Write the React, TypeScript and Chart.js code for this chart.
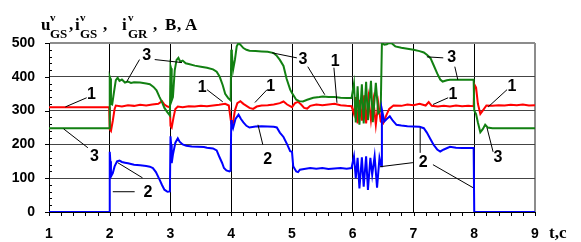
import React, { useEffect, useRef } from "react";
import { Chart, registerables } from "chart.js";
Chart.register(...registerables);

// ---- data (t in seconds, value) ----
const redSeries: [number, number][] = [
  [1.0, 310], [1.99, 310], [2.0, 245], [2.02, 240], [2.05, 270], [2.08, 305], [2.1, 315], [2.2, 312],
  [2.3, 316], [2.4, 314], [2.5, 317], [2.6, 315], [2.7, 318], [2.8, 320], [2.86, 328], [2.9, 318],
  [2.95, 312], [2.99, 310], [3.0, 255], [3.02, 250], [3.05, 280], [3.08, 305], [3.12, 312], [3.2, 310],
  [3.3, 313], [3.4, 312], [3.5, 314], [3.6, 313], [3.7, 315], [3.8, 317], [3.9, 320], [3.96, 315],
  [4.0, 262], [4.02, 255], [4.06, 300], [4.1, 322], [4.15, 328], [4.2, 320], [4.3, 308], [4.36, 305],
  [4.42, 312], [4.5, 315], [4.6, 316], [4.7, 318], [4.8, 322], [4.86, 327], [4.92, 318], [5.0, 310],
  [5.05, 322], [5.1, 326], [5.15, 318], [5.2, 308], [5.25, 306], [5.3, 314], [5.4, 318], [5.5, 316],
  [5.6, 318], [5.7, 320], [5.8, 316], [5.9, 314], [5.98, 313], [6.02, 290], [6.05, 340], [6.08, 262],
  [6.12, 332], [6.15, 270], [6.19, 345], [6.22, 262], [6.26, 338], [6.3, 272], [6.34, 330], [6.38, 258],
  [6.42, 322], [6.46, 268], [6.5, 262], [6.55, 285], [6.6, 305], [6.67, 315], [6.8, 314], [6.9, 318],
  [7.0, 316], [7.1, 320], [7.2, 315], [7.25, 325], [7.3, 314], [7.4, 312], [7.5, 314], [7.6, 312],
  [7.7, 315], [7.8, 313], [7.9, 314], [7.99, 313], [8.0, 378], [8.03, 368], [8.06, 320], [8.1, 290],
  [8.14, 300], [8.2, 315], [8.3, 314], [8.4, 316], [8.5, 315], [8.6, 317], [8.7, 316], [8.8, 318],
  [8.9, 315], [9.0, 316],
];

const greenSeries: [number, number][] = [
  [1.0, 248], [1.995, 248], [2.0, 400], [2.01, 395], [2.02, 320], [2.04, 318], [2.07, 355], [2.1, 390],
  [2.13, 397], [2.16, 388], [2.2, 392], [2.25, 383], [2.3, 386], [2.35, 382], [2.4, 384], [2.5, 383],
  [2.6, 380], [2.66, 378], [2.72, 370], [2.77, 360], [2.82, 340], [2.86, 325], [2.9, 308], [2.95, 295],
  [2.99, 286], [3.0, 432], [3.01, 425], [3.02, 330], [3.04, 340], [3.07, 420], [3.1, 450], [3.13, 456],
  [3.16, 445], [3.2, 448], [3.25, 440], [3.3, 438], [3.4, 433], [3.5, 430], [3.6, 427], [3.7, 422],
  [3.76, 415], [3.81, 400], [3.86, 375], [3.9, 350], [3.95, 337], [3.99, 330], [4.0, 480], [4.01, 470],
  [4.03, 420], [4.06, 450], [4.09, 490], [4.12, 500], [4.15, 495], [4.2, 485], [4.25, 480], [4.3, 477],
  [4.4, 476], [4.5, 475], [4.6, 474], [4.7, 470], [4.75, 462], [4.8, 450], [4.86, 432], [4.91, 395],
  [4.97, 362], [5.0, 352], [5.07, 332], [5.12, 328], [5.18, 327], [5.25, 332], [5.35, 338], [5.45, 340],
  [5.51, 342], [5.6, 340], [5.7, 340], [5.8, 338], [5.9, 337], [5.98, 337], [6.02, 380], [6.05, 265],
  [6.08, 372], [6.11, 258], [6.15, 378], [6.18, 262], [6.22, 385], [6.25, 272], [6.3, 388], [6.33, 266],
  [6.38, 382], [6.42, 292], [6.46, 300], [6.48, 500], [6.52, 495], [6.56, 496], [6.6, 500], [6.64, 499],
  [6.7, 490], [6.8, 486], [6.9, 483], [7.0, 480], [7.1, 476], [7.17, 472], [7.22, 465], [7.28, 455],
  [7.33, 435], [7.39, 410], [7.44, 392], [7.48, 386], [7.55, 390], [7.6, 391], [7.7, 391], [7.8, 391],
  [7.9, 391], [7.99, 391], [8.0, 300], [8.03, 290], [8.06, 265], [8.1, 236], [8.14, 245], [8.18, 258],
  [8.22, 250], [8.3, 248], [9.0, 248],
];

const blueSeries: [number, number][] = [
  [1.0, 0], [1.995, 0], [2.0, 178], [2.01, 150], [2.02, 105], [2.05, 115], [2.08, 135], [2.12, 150],
  [2.16, 152], [2.2, 148], [2.25, 146], [2.3, 144], [2.4, 140], [2.5, 138], [2.6, 136], [2.66, 134],
  [2.71, 130], [2.76, 118], [2.82, 96], [2.86, 80], [2.9, 66], [2.95, 60], [2.99, 61], [3.0, 224],
  [3.01, 200], [3.02, 145], [3.04, 170], [3.08, 205], [3.12, 218], [3.15, 208], [3.2, 200], [3.26, 196],
  [3.35, 194], [3.45, 193], [3.55, 192], [3.6, 190], [3.7, 188], [3.76, 182], [3.8, 165], [3.85, 145],
  [3.88, 130], [3.92, 123], [3.97, 120], [3.99, 122], [4.0, 272], [4.01, 260], [4.03, 248], [4.07, 275],
  [4.12, 288], [4.16, 275], [4.2, 265], [4.25, 255], [4.3, 250], [4.4, 253], [4.5, 254], [4.6, 253],
  [4.7, 252], [4.75, 250], [4.8, 235], [4.86, 222], [4.92, 200], [4.97, 180], [5.0, 178], [5.02, 135],
  [5.07, 120], [5.1, 118], [5.13, 125], [5.2, 127], [5.3, 130], [5.4, 128], [5.5, 130], [5.6, 127],
  [5.7, 129], [5.8, 130], [5.9, 128], [5.98, 130], [6.02, 165], [6.05, 100], [6.08, 160], [6.11, 70],
  [6.15, 162], [6.18, 75], [6.22, 165], [6.25, 65], [6.29, 160], [6.32, 110], [6.36, 165], [6.4, 72],
  [6.44, 160], [6.47, 135], [6.48, 303], [6.52, 268], [6.56, 275], [6.61, 283], [6.66, 270], [6.72, 258],
  [6.8, 256], [6.9, 254], [7.0, 253], [7.1, 252], [7.17, 248], [7.22, 235], [7.28, 215], [7.33, 199],
  [7.39, 185], [7.44, 179], [7.5, 185], [7.6, 193], [7.7, 190], [7.8, 189], [7.9, 189], [7.99, 189],
  [8.0, 0], [9.0, 0],
];

const xMin = 1, xMax = 9, xStep = 1, xMinorStep = 0.2;
const yMin = 0, yMax = 500, yStep = 100, yMinorStep = 20;

// annotation labels: [text, t, v]
const noteLabels: [string, number, number][] = [
  ["1", 1.70, 347], ["3", 1.75, 164], ["3", 2.61, 462], ["2", 2.63, 57],
  ["1", 3.52, 367], ["1", 4.65, 370], ["2", 4.60, 155], ["3", 5.18, 450],
  ["1", 5.71, 444], ["3", 7.63, 456], ["1", 7.65, 347], ["2", 7.16, 146],
  ["1", 8.62, 370], ["3", 8.39, 161],
];
// leader lines: [t1, v1, t2, v2]
const noteLines: [number, number, number, number][] = [
  [1.27, 311, 1.62, 338], [1.24, 246, 1.64, 190], [2.49, 451, 2.28, 386], [2.74, 451, 3.19, 442],
  [2.54, 101, 2.13, 146], [2.05, 60, 2.41, 60], [3.60, 362, 3.86, 326], [4.59, 362, 4.39, 324],
  [4.52, 199, 4.44, 258], [5.08, 456, 4.67, 471], [5.26, 430, 5.54, 347], [5.69, 427, 5.74, 323],
  [7.49, 456, 7.22, 459], [7.68, 430, 7.73, 391], [7.57, 338, 7.32, 318], [7.11, 175, 7.11, 249],
  [6.99, 146, 6.45, 134], [7.32, 140, 7.98, 72], [8.54, 362, 8.23, 311], [8.31, 178, 8.21, 249],
];

// title pieces: [text, x, baseline, size]
const titlePieces: [string, number, number, number][] = [
  ["u", 41, 30, 17], ["v", 50, 21, 11], ["GS", 50, 38, 13], [",", 69, 30, 17],
  ["i", 75, 30, 17], ["v", 80, 21, 11], ["GS", 80, 38, 13], [",", 103, 30, 17],
  ["i", 122, 30, 17], ["v", 128, 21, 11], ["GR", 128, 38, 13], [",", 153, 30, 17],
  ["B", 165, 30, 17], [",", 177, 30, 17], ["A", 185, 30, 17],
];
const xTitlePieces: [string, number, number, number][] = [["t,", 549, 238, 17], ["c", 559, 238, 17]];

const SANS = '"Liberation Sans", Arial, sans-serif';
const SERIF = '"Liberation Serif", "Times New Roman", serif';

const overlay = {
  id: "overlay",
  afterDraw(chart: any) {
    const ctx = chart.ctx as CanvasRenderingContext2D;
    const xs = chart.scales.x;
    const ys = chart.scales.y;
    const { left, bottom } = chart.chartArea;
    ctx.save();
    ctx.strokeStyle = "#000";
    ctx.lineWidth = 1;
    ctx.beginPath();
    for (let v = yMin; v <= yMax + 1e-6; v += yMinorStep) {
      const py = Math.round(ys.getPixelForValue(v)) + 0.5;
      if (Math.abs(v % yStep) < 1e-6) {
        ctx.moveTo(left - 4, py);
        ctx.lineTo(left, py);
      } else {
        ctx.moveTo(left, py);
        ctx.lineTo(left + 3, py);
      }
    }
    for (let t = xMin; t <= xMax + 1e-6; t += xMinorStep) {
      const px = Math.round(xs.getPixelForValue(t)) + 0.5;
      ctx.moveTo(px, bottom);
      ctx.lineTo(px, bottom + 4);
    }
    ctx.stroke();

    // leader lines
    ctx.beginPath();
    for (const [t1, v1, t2, v2] of noteLines) {
      ctx.moveTo(xs.getPixelForValue(t1), ys.getPixelForValue(v1));
      ctx.lineTo(xs.getPixelForValue(t2), ys.getPixelForValue(v2));
    }
    ctx.stroke();

    ctx.fillStyle = "#000";
    ctx.font = `bold 16px ${SANS}`;
    ctx.textAlign = "center";
    ctx.textBaseline = "middle";
    for (const [txt, t, v] of noteLabels) {
      ctx.fillText(txt, xs.getPixelForValue(t), ys.getPixelForValue(v));
    }

    ctx.textAlign = "left";
    ctx.textBaseline = "alphabetic";
    for (const [txt, x, y, s] of [...titlePieces, ...xTitlePieces]) {
      ctx.font = `bold ${s}px ${SERIF}`;
      ctx.fillText(txt, x, y);
    }
    ctx.restore();
  },
};

export default function App() {
  const ref = useRef<HTMLCanvasElement | null>(null);
  useEffect(() => {
    if (!ref.current) return;
    const mk = (s: [number, number][], color: string) => ({
      data: s.map(([x, y]) => ({ x, y })),
      borderColor: color,
      borderWidth: 2,
      pointRadius: 0,
      tension: 0,
      fill: false,
    });
    const chart = new Chart(ref.current, {
      type: "line",
      data: {
        datasets: [
          mk(blueSeries, "#0000ff"),
          mk(greenSeries, "#128012"),
          mk(redSeries, "#ff0000"),
        ],
      },
      options: {
        animation: false,
        responsive: false,
        devicePixelRatio: 1,
        layout: { padding: { top: 43, right: 46, left: 0, bottom: 0 } },
        plugins: { legend: { display: false }, tooltip: { enabled: false } },
        scales: {
          x: {
            type: "linear",
            min: xMin,
            max: xMax,
            afterFit: (s: any) => { s.height = 30; },
            ticks: { stepSize: xStep, padding: 14, color: "#000", font: { family: SANS, size: 14, weight: "bold" }, maxRotation: 0 },
            grid: {
              drawTicks: false,
              color: (c: any) => (c.tick && c.tick.value === xMax ? "#8c8c8c" : c.tick && c.tick.value === xMin ? "rgba(0,0,0,0)" : "#000"),
              lineWidth: (c: any) => (c.tick && c.tick.value === xMax ? 2 : 1),
            },
            border: { display: true, color: "#000", width: 1 },
          },
          y: {
            min: yMin,
            max: yMax,
            afterFit: (s: any) => { s.width = 49; },
            ticks: { stepSize: yStep, padding: 14, color: "#000", font: { family: SANS, size: 14, weight: "bold" } },
            grid: {
              drawTicks: false,
              color: (c: any) => (c.tick && c.tick.value === yMax ? "#8c8c8c" : c.tick && c.tick.value === yMin ? "rgba(0,0,0,0)" : "#444"),
              lineWidth: (c: any) => (c.tick && c.tick.value === yMax ? 2 : 1),
            },
            border: { display: true, color: "#000", width: 1 },
          },
        },
      },
      plugins: [overlay],
    } as any);
    return () => chart.destroy();
  }, []);
  return (
    <div style={{ position: "fixed", left: 0, top: 0, width: 581, height: 242, background: "#fff" }}>
      <canvas ref={ref} width={581} height={242} style={{ display: "block" }} />
    </div>
  );
}
